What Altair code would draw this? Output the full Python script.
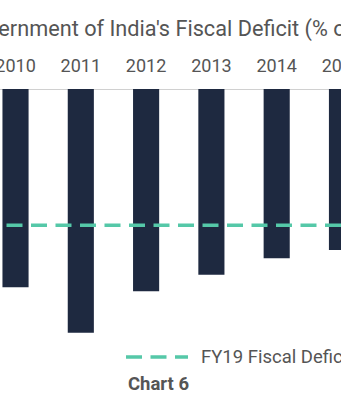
import altair as alt
import pandas as pd

years = ["2010", "2011", "2012", "2013", "2014", "2015"]
deficit = [4.8, 5.9, 4.9, 4.5, 4.1, 3.9]
target_label = ["FY19 Fiscal Deficit Target"]
target_value = [3.3]
footer = ["Chart 6"]

bars_df = pd.DataFrame({"year": years, "deficit": deficit})
target_df = pd.DataFrame({"label": target_label, "value": target_value})
footer_df = pd.DataFrame({"t": footer})

PLOT_H = 311
ydom = [0, PLOT_H / 41.3]

x_enc = alt.X(
    "year:O",
    scale=alt.Scale(range=[-10.6, 368.1], paddingInner=0.6, paddingOuter=0.2),
    axis=alt.Axis(
        orient="top", title=None, labelAngle=0, ticks=False,
        labelFontSize=18, labelColor="#555555", labelFont="Roboto",
        labelPadding=14, domainColor="#d0d0d0", domainWidth=1.2,
    ),
)

bars = alt.Chart(bars_df).mark_bar(color="#1e2940").encode(
    x=x_enc,
    y=alt.Y("deficit:Q", scale=alt.Scale(domain=ydom, reverse=True, nice=False, zero=True), axis=None),
)

rule = alt.Chart(target_df).mark_rule(strokeWidth=3.5, strokeDash=[16, 8.5]).encode(
    y=alt.Y("value:Q", scale=alt.Scale(domain=ydom, reverse=True, nice=False), axis=None),
    color=alt.Color(
        "label:N",
        scale=alt.Scale(range=["#55c8a8"]),
        legend=alt.Legend(
            title=None, orient="none", legendX=124, legendY=235, padding=0,
            symbolType="stroke", symbolSize=3844, symbolStrokeWidth=3.5,
            symbolDash=[16, 8.5], labelFontSize=18.5, labelColor="#555555",
            labelFont="Roboto", labelOffset=11, labelLimit=400,
        ),
    ),
)

foot = alt.Chart(footer_df).mark_text(
    align="left", baseline="middle", fontSize=18.5, fontWeight="bold",
    color="#555555", font="Roboto",
).encode(x=alt.value(128), y=alt.value(295), text="t:N")

chart = alt.layer(bars, rule, foot).properties(
    width=341, height=PLOT_H,
    autosize=alt.AutoSizeParams(type="none"),
    padding={"left": 0, "top": 89, "right": 0, "bottom": 0},
    title=alt.TitleParams(
        "Government of India's Fiscal Deficit (% of GDP)",
        anchor="start", frame="group", dx=-39, dy=4, offset=3, baseline="alphabetic",
        fontSize=21.7, font="Roboto", fontWeight="normal", color="#555555",
    ),
).configure(background="white").configure_view(stroke=None)

chart.save("out.html", embed_options={"renderer": "svg", "actions": False})
